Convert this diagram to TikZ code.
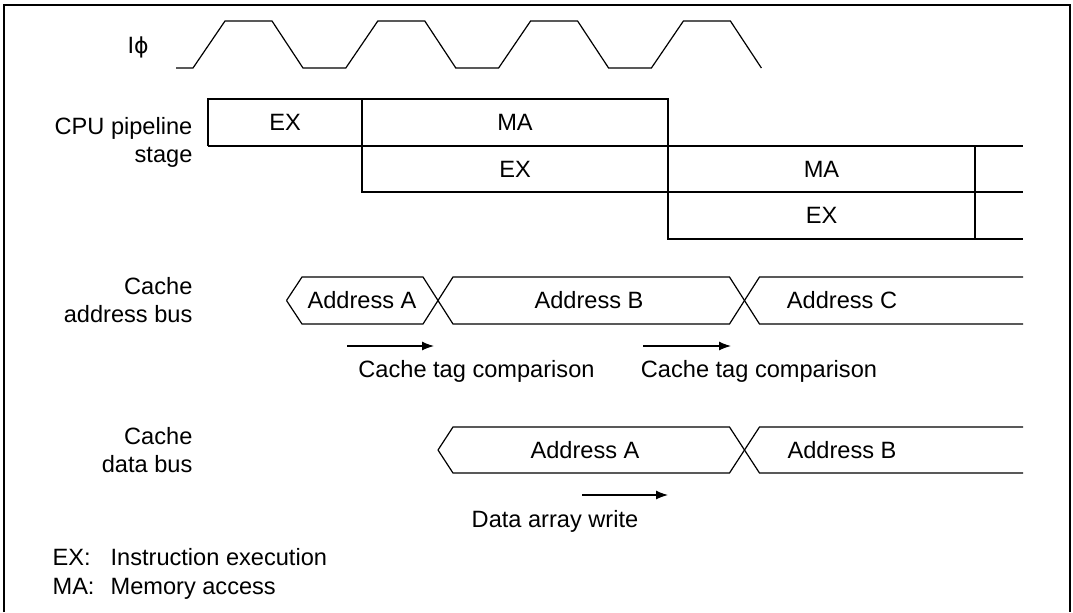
\documentclass[tikz,border=0pt]{standalone}
\usepackage{fontspec}
\setmainfont{Liberation Sans}
\newfontfamily\phifont{DejaVu Sans}
\usetikzlibrary{arrows.meta}

\begin{document}
\begin{tikzpicture}[x=0.5pt, y=-0.5pt, line width=0.6pt, >={Latex[length=6pt,width=4.5pt]},
    every node/.style={font=\fontsize{11.8}{14}\selectfont, inner sep=0pt},
    txt/.style={text height=8.45pt, text depth=0pt},
    sidelabel/.style={anchor=north east, align=right}]
    \useasboundingbox (0,0) rectangle (1073,612);
    \draw[line width=1pt] (4,612) -- (4,5) -- (1070,5) -- (1070,612);

    \node[txt, anchor=west] (clk) at (127,45) {I{\phifont\fontsize{11}{14}\selectfont ϕ}};
    \draw (176,68) \foreach \i in {0,...,3} { -- ({193+152.8*\i},68) -- ({225+152.8*\i},21) -- ({272+152.8*\i},21) -- ({303+152.8*\i},68) };

    \node[sidelabel] (cpu) at (193,116.5) {CPU pipeline\\stage};
    \draw (208,146) -- (208,99) -- (668,99) -- (668,239) -- (1023,239);
    \draw (208,146) -- (1023,146);
    \draw (362,99) -- (362,192) -- (1023,192);
    \draw (975,146) -- (975,239);
    \node[txt] (ex1) at (285,122.5) {EX};
    \node[txt] (ma1) at (515,122.5) {MA};
    \node[txt] (ex2) at (515,169) {EX};
    \node[txt] (ma2) at (821.5,169) {MA};
    \node[txt] (ex3) at (821.5,215.5) {EX};

    \node[sidelabel] (abus) at (193,277) {Cache\\address bus};
    \draw (286.5,300.5) -- (302,277) -- (423,277) -- (453,324) -- (729.5,324) -- (759.5,277) -- (1023,277);
    \draw (286.5,300.5) -- (302,324) -- (423,324) -- (453,277) -- (729.5,277) -- (759.5,324) -- (1023,324);
    \node[txt] (adra) at (362,300.5) {Address A};
    \node[txt] (adrb) at (589,300.5) {Address B};
    \node[txt] (adrc) at (842,300.5) {Address C};

    \coordinate (cmp1) at (347,346);
    \coordinate (cmp1e) at (434,346);
    \coordinate (cmp2) at (643,346);
    \coordinate (cmp2e) at (731,346);
    \draw[->] (cmp1) -- (cmp1e);
    \draw[->] (cmp2) -- (cmp2e);
    \node[txt] (tag1) at (476.5,369) {Cache tag comparison};
    \node[txt] (tag2) at (759,369) {Cache tag comparison};

    \node[sidelabel] (dbus) at (193,427) {Cache\\data bus};
    \draw (438,450) -- (453,427) -- (729.5,427) -- (759.5,473) -- (1023,473);
    \draw (438,450) -- (453,473) -- (729.5,473) -- (759.5,427) -- (1023,427);
    \node[txt] (data) at (585,450) {Address A};
    \node[txt] (datb) at (842,450) {Address B};

    \coordinate (wr) at (582,495);
    \coordinate (wre) at (668,495);
    \draw[->] (wr) -- (wre);
    \node[txt] (write) at (555,519) {Data array write};

    \node[txt, anchor=west] (exkey) at (52,557) {EX:};
    \node[txt, anchor=west] (exdesc) at (110,557) {Instruction execution};
    \node[txt, anchor=west] (makey) at (52,586) {MA:};
    \node[txt, anchor=west] (madesc) at (110,586) {Memory access};
\end{tikzpicture}
\end{document}
